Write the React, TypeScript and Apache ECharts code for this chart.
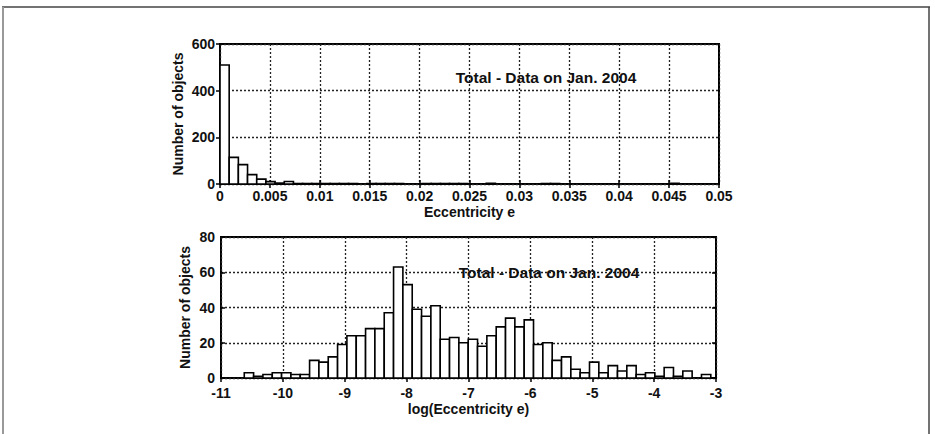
import React, { useEffect, useRef } from "react";
import * as echarts from "echarts";

// ---- Data ----
const topTitle = "Total - Data on Jan. 2004";
const topXName = "Eccentricity e";
const bottomXName = "log(Eccentricity e)";
const yName = "Number of objects";

const topBinStart = 0;
const topBinWidth = 0.00092;
const topCounts = [
  510, 114, 83, 40, 21, 10, 4, 11, 2, 2,
  2, 2, 2, 2, 2, 0, 2, 2, 2, 2,
  0, 0, 2, 2, 2, 2, 2, 0, 0, 3,
  0, 0, 0, 0, 0, 2, 2, 0, 0, 0,
  0, 0, 0, 0, 0, 0, 0, 0, 0, 3,
];

const bottomBinStart = -10.624;
const bottomBinWidth = 0.1508;
const bottomCounts = [
  3, 1, 2, 3, 3, 2, 2, 10, 9, 12,
  19, 24, 24, 28, 28, 37, 63, 53, 39, 35,
  41, 22, 23, 20, 22, 18, 24, 29, 34, 29,
  33, 19, 20, 10, 12, 5, 3, 9, 3, 7,
  4, 7, 2, 3, 1, 6, 1, 4, 0, 2,
];

const topXTicks = { min: 0, max: 0.05, interval: 0.005 };
const topYTicks = { min: 0, max: 600, interval: 200 };
const bottomXTicks = { min: -11, max: -3, interval: 1 };
const bottomYTicks = { min: 0, max: 80, interval: 20 };

function toBins(start: number, width: number, counts: number[]) {
  return counts.map((c, i) => [start + i * width, start + (i + 1) * width, c]);
}

const FONT = "'Liberation Sans', Arial, sans-serif";

export default function App() {
  const ref = useRef<HTMLDivElement>(null);

  useEffect(() => {
    if (!ref.current) return;
    const chart = echarts.init(ref.current, undefined, { renderer: "svg" });

    const labelStyle = {
      fontFamily: FONT,
      fontWeight: "bold" as const,
      fontSize: 14,
      color: "#111",
    };
    const split = {
      show: true,
      lineStyle: { type: [2, 2] as any, color: "#222", width: 1.3 },
    };
    const tick = {
      show: true,
      inside: true,
      length: 4,
      lineStyle: { color: "#000", width: 1.5 },
    };

    const renderItem = (params: any, api: any) => {
      const x0 = api.value(0);
      const x1 = api.value(1);
      const y = api.value(2);
      if (!y) return null;
      const p0 = api.coord([x0, y]);
      const p1 = api.coord([x1, 0]);
      return {
        type: "rect",
        shape: { x: p0[0], y: p0[1], width: p1[0] - p0[0], height: p1[1] - p0[1] },
        style: { fill: "#fff", stroke: "#000", lineWidth: 1.6 },
      };
    };

    const option: any = {
      animation: false,
      backgroundColor: "#fff",
      grid: [
        { left: 220, top: 44, width: 499, height: 140, show: true, borderColor: "#000", borderWidth: 2, backgroundColor: "transparent" },
        { left: 221, top: 237, width: 495, height: 141, show: true, borderColor: "#000", borderWidth: 2, backgroundColor: "transparent" },
      ],
      xAxis: [
        {
          type: "value", gridIndex: 0, ...topXTicks,
          axisLine: { show: false }, axisTick: tick, splitLine: split,
          axisLabel: { ...labelStyle, margin: 5, formatter: (v: number) => String(+v.toFixed(3)) },
          name: topXName, nameLocation: "middle", nameGap: 21, nameMoveOverlap: false, nameTextStyle: { ...labelStyle },
        },
        {
          type: "value", gridIndex: 0, position: "top", ...topXTicks,
          axisLine: { show: false }, axisTick: tick, splitLine: { show: false }, axisLabel: { show: false },
        },
        {
          type: "value", gridIndex: 1, ...bottomXTicks,
          axisLine: { show: false }, axisTick: tick, splitLine: split,
          axisLabel: { ...labelStyle, margin: 8 },
          name: bottomXName, nameLocation: "middle", nameGap: 24, nameMoveOverlap: false, nameTextStyle: { ...labelStyle },
        },
        {
          type: "value", gridIndex: 1, position: "top", ...bottomXTicks,
          axisLine: { show: false }, axisTick: tick, splitLine: { show: false }, axisLabel: { show: false },
        },
      ],
      yAxis: [
        {
          type: "value", gridIndex: 0, ...topYTicks,
          axisLine: { show: false }, axisTick: tick, splitLine: split,
          axisLabel: { ...labelStyle, margin: 5 },
          name: yName, nameLocation: "middle", nameGap: 35, nameMoveOverlap: false, nameTextStyle: { ...labelStyle },
        },
        {
          type: "value", gridIndex: 0, position: "right", ...topYTicks,
          axisLine: { show: false }, axisTick: tick, splitLine: { show: false }, axisLabel: { show: false },
        },
        {
          type: "value", gridIndex: 1, ...bottomYTicks,
          axisLine: { show: false }, axisTick: tick, splitLine: split,
          axisLabel: { ...labelStyle, margin: 6 },
          name: yName, nameLocation: "middle", nameGap: 29, nameMoveOverlap: false, nameTextStyle: { ...labelStyle },
        },
        {
          type: "value", gridIndex: 1, position: "right", ...bottomYTicks,
          axisLine: { show: false }, axisTick: tick, splitLine: { show: false }, axisLabel: { show: false },
        },
      ],
      series: [
        {
          type: "custom", xAxisIndex: 0, yAxisIndex: 0,
          renderItem, encode: { x: [0, 1], y: 2 },
          data: toBins(topBinStart, topBinWidth, topCounts),
        },
        {
          type: "custom", xAxisIndex: 2, yAxisIndex: 2,
          renderItem, encode: { x: [0, 1], y: 2 },
          data: toBins(bottomBinStart, bottomBinWidth, bottomCounts),
        },
      ],
      graphic: [
        { type: "line", shape: { x1: 2, y1: 7, x2: 930, y2: 7 }, style: { stroke: "#444", lineWidth: 1.5 } },
        { type: "line", shape: { x1: 3, y1: 7, x2: 3, y2: 434 }, style: { stroke: "#999", lineWidth: 2 } },
        { type: "line", shape: { x1: 929, y1: 7, x2: 929, y2: 434 }, style: { stroke: "#444", lineWidth: 1.5 } },
        {
          type: "text", x: 546, y: 77, z: 100,
          style: { text: topTitle, fontFamily: FONT, fontWeight: "bold", fontSize: 15.5, fill: "#111", textAlign: "center", textVerticalAlign: "middle" },
        },
        {
          type: "text", x: 549, y: 272, z: 100,
          style: { text: topTitle, fontFamily: FONT, fontWeight: "bold", fontSize: 15.5, fill: "#111", textAlign: "center", textVerticalAlign: "middle" },
        },
      ],
    };

    chart.setOption(option);
    return () => chart.dispose();
  }, []);

  return (
    <div
      ref={ref}
      style={{ position: "absolute", left: 0, top: 0, width: 935, height: 434, background: "#fff" }}
    />
  );
}
